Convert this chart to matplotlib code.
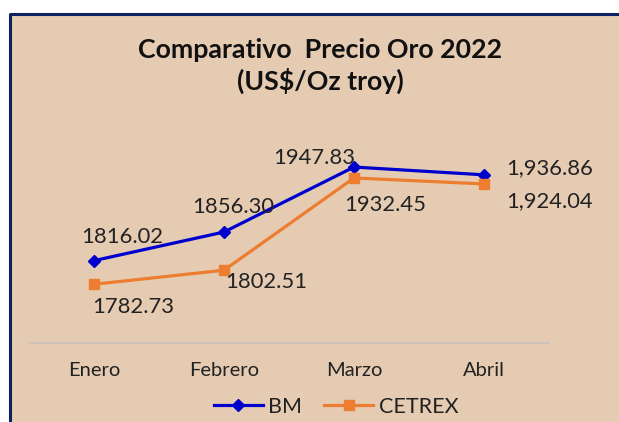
import numpy as np
import matplotlib
matplotlib.use("Agg")
import matplotlib.pyplot as plt
from matplotlib.patches import Rectangle
from matplotlib.lines import Line2D

# data
months = ["Enero", "Febrero", "Marzo", "Abril"]
bm_values = [1816.02, 1856.30, 1947.83, 1936.86]
cetrex_values = [1782.73, 1802.51, 1932.45, 1924.04]
bm_labels = ["1816.02", "1856.30", "1947.83", "1,936.86"]
cetrex_labels = ["1782.73", "1802.51", "1932.45", "1,924.04"]

# label placement (pixels from the marker)
bm_offsets = [(28, 24), (9, 25), (-40, 9), (66, 7)]
cetrex_offsets = [(39, -23), (42, -12), (31, -27), (66, -17)]

BG = "#E5CBB2"
NAVY = "#0B2161"
BLUE = "#0000CD"
ORANGE = "#ED7D31"
TEXT = "#222222"

plt.rcParams["font.family"] = ["Lato", "DejaVu Sans"]

W, H = 619, 422
fig = plt.figure(figsize=(W / 100, H / 100), dpi=100)
fig.patch.set_facecolor("white")

# beige chart area with navy top/left border
left_px, top_px = 10, 14
fig.patches.append(Rectangle((left_px / W, 0), 1 - left_px / W, 1 - top_px / H,
                             transform=fig.transFigure, facecolor=BG, edgecolor="none", zorder=-10))
fig.lines.append(Line2D([left_px / W, left_px / W, 1], [0, 1 - top_px / H, 1 - top_px / H],
                        transform=fig.transFigure, color=NAVY, linewidth=2.2, zorder=-5))

fig.text(320 / W, 1 - 66 / H, "Comparativo  Precio Oro 2022\n(US$/Oz troy)",
         ha="center", va="center", fontsize=19.3, fontweight="bold", color="#111111",
         linespacing=1.25)

ax = fig.add_axes([29 / W, 1 - 343 / H, 520 / W, 213 / H])
ax.set_facecolor("none")
x = np.arange(len(months))

ax.plot(x, bm_values, color=BLUE, linewidth=2.3, marker="D", markersize=6.5, label="BM", zorder=3)
ax.plot(x, cetrex_values, color=ORANGE, linewidth=2.3, marker="s", markersize=7.5, label="CETREX", zorder=3)

for xi, val, lab, off in zip(x, bm_values, bm_labels, bm_offsets):
    ax.annotate(lab, (xi, val), xytext=off, textcoords="offset pixels",
                ha="center", va="center", fontsize=15.8, color=TEXT)
for xi, val, lab, off in zip(x, cetrex_values, cetrex_labels, cetrex_offsets):
    ax.annotate(lab, (xi, val), xytext=off, textcoords="offset pixels",
                ha="center", va="center", fontsize=15.8, color=TEXT)

ax.set_xlim(-0.5, 3.5)
ax.set_ylim(1700, 2000)
ax.set_xticks(x)
ax.set_xticklabels(months, fontsize=14.5, color=TEXT)
ax.set_yticks([])
ax.tick_params(axis="x", length=0, pad=14)
for side in ["top", "right", "left"]:
    ax.spines[side].set_visible(False)
ax.spines["bottom"].set_color("#CFC2B6")
ax.spines["bottom"].set_linewidth(1.5)

handles, labels = ax.get_legend_handles_labels()
fig.legend(handles, labels, loc="center", bbox_to_anchor=(336 / W, 1 - 407 / H),
           ncol=2, frameon=False, fontsize=15.5, handlelength=2.3,
           handletextpad=0.25, columnspacing=1.0, labelcolor=TEXT)

fig.savefig("out.png", dpi=100, facecolor=fig.get_facecolor())
